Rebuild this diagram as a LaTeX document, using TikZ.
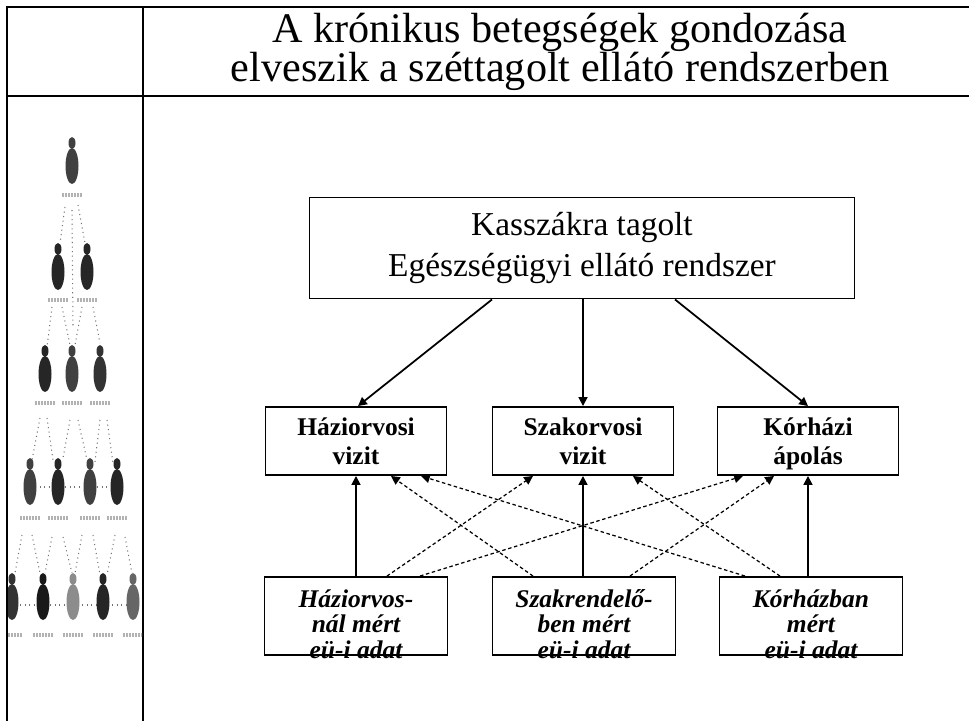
\documentclass[tikz,border=0pt]{standalone}
\usepackage{fontspec}
\setmainfont{Liberation Serif}
\usetikzlibrary{arrows.meta, calc, positioning}

% one person of the little family tree: x, top y, darkness
\newcommand\pers[3]{%
  \fill[black!#3] (#1,#2+6) ellipse (3.5 and 6);
  \fill[black!#3] (#1,#2+29) ellipse (6.5 and 18);
  \fill[black!#3!white] (#1,#2+24) ellipse (2 and 6);
}
% unreadable caption under a person
\newcommand\smudge[2]{%
  \draw[gray!60, line width=2.2pt, dash pattern=on 1.2pt off 0.5pt] (#1-10,#2) -- (#1+10,#2);
}

\begin{document}
\begin{tikzpicture}[x=0.2mm, y=-0.2mm,
  frame/.style={line width=1.6pt},
  careunit/.style={draw, line width=1.1pt, minimum width=36.2mm, minimum height=13.6mm,
    text depth=0pt, align=center, font=\bfseries\fontsize{14.5}{16.4}\selectfont},
  databox/.style={draw, line width=1.1pt, minimum width=36.6mm, minimum height=15.6mm},
  datatext/.style={align=center, inner sep=0pt, anchor=north,
    font=\bfseries\itshape\fontsize{14.5}{14.5}\selectfont},
  link/.style={line width=1pt, -{Triangle[length=5pt, width=5pt]}},
  crosslink/.style={line width=0.7pt, dash pattern=on 2pt off 1.5pt,
    -{Triangle[length=5pt, width=5pt]}},
  tree/.style={black!55, dotted, line width=0.6pt},
]
\useasboundingbox (0,0) rectangle (969,721);

% Table frame
\draw[frame] (7,721) -- (7,7) -- (969,7);
\draw[frame] (7,96) -- (969,96);
\draw[frame] (143,7) -- (143,721);

% Heading
\node[align=center, font=\fontsize{24}{22}\selectfont] (title) at (560,52)
  {A krónikus betegségek gondozása\\elveszik a széttagolt ellátó rendszerben};

% Family tree in the left column
\begin{scope}
\clip (8,97) rectangle (142,721);
\draw[tree] (65,207) -- (60,243) (78,205) -- (85,243) (72,210) -- (73,327);
\draw[tree] (52,307) -- (47,347) (62,307) -- (70,345) (82,307) -- (75,345) (93,307) -- (100,343);
\draw[tree] (40,418) -- (32,460) (47,418) -- (53,460) (70,420) -- (63,458)
  (78,420) -- (87,460) (100,420) -- (95,462) (107,420) -- (113,463);
\draw[tree] (35,487) -- (52,487) (65,487) -- (82,487) (97,487) -- (110,487);
\draw[tree] (22,535) -- (15,573) (32,535) -- (40,573) (52,537) -- (45,573) (63,537) -- (72,573)
  (82,535) -- (75,573) (93,535) -- (100,575) (115,535) -- (107,575) (125,537) -- (132,573);
\draw[tree] (20,605) -- (35,605) (50,605) -- (65,605) (82,605) -- (97,605) (112,605) -- (127,605);
\pers{72}{137}{75} \smudge{72}{195}
\pers{58}{243}{85} \smudge{58}{300}
\pers{87}{243}{85} \smudge{87}{300}
\foreach \px/\dk in {45/85, 72/75, 100/80} {\pers{\px}{345}{\dk} \smudge{\px}{403}}
\foreach \px/\dk in {30/75, 58/85, 90/75, 117/85} {\pers{\px}{458}{\dk} \smudge{\px}{518}}
\foreach \px/\dk in {12/80, 43/90, 73/45, 103/85, 133/60} {\pers{\px}{573}{\dk} \smudge{\px}{635}}
\end{scope}

% Financing system on top
\node[draw, line width=1.1pt, minimum width=109mm, minimum height=20.2mm, align=center,
  font=\fontsize{19}{23}\selectfont] (kassza) at (582,248)
  {Kasszákra tagolt\\Egészségügyi ellátó rendszer};

% Care units
\node[careunit] (hvisit) at (356,441) {Háziorvosi\\vizit};
\node[careunit] (svisit) at (583,441) {Szakorvosi\\vizit};
\node[careunit] (kvisit) at (808,441) {Kórházi\\ápolás};

% Health data boxes
\node[databox] (hdata) at (356,616) {};
\node[databox] (sdata) at (584,616) {};
\node[databox] (kdata) at (811,616) {};
\node[datatext] at ($(hdata.north)+(0,13)$) {Háziorvos-\\nál mért\\eü-i adat};
\node[datatext] at ($(sdata.north)+(0,13)$) {Szakrendelő-\\ben mért\\eü-i adat};
\node[datatext] at ($(kdata.north)+(0,13)$) {Kórházban\\mért\\eü-i adat};

% Top-down arrows
\draw[link] ($(kassza.south)+(-90,0)$) -- ($(hvisit.north)+(2,0)$);
\draw[link] (svisit.north |- kassza.south) -- (svisit.north);
\draw[link] ($(kassza.south)+(93,0)$) -- (kvisit.north);

% Data up to its own unit
\draw[link] (hvisit.south |- hdata.north) -- (hvisit.south);
\draw[link] (svisit.south |- sdata.north) -- (svisit.south);
\draw[link] (kvisit.south |- kdata.north) -- (kvisit.south);

% Data that never reaches the other units
\draw[crosslink] ($(hdata.north)+(31,0)$) -- ($(svisit.south)+(-50,0)$);
\draw[crosslink] ($(hdata.north)+(64,0)$) -- ($(kvisit.south)+(-65,0)$);
\draw[crosslink] ($(sdata.north)+(-51,0)$) -- ($(hvisit.south)+(35,0)$);
\draw[crosslink] ($(sdata.north)+(46,0)$) -- ($(kvisit.south)+(-34,0)$);
\draw[crosslink] ($(kdata.north)+(-66,0)$) -- ($(hvisit.south)+(65,0)$);
\draw[crosslink] ($(kdata.north)+(-31,0)$) -- ($(svisit.south)+(50,0)$);
\end{tikzpicture}
\end{document}
